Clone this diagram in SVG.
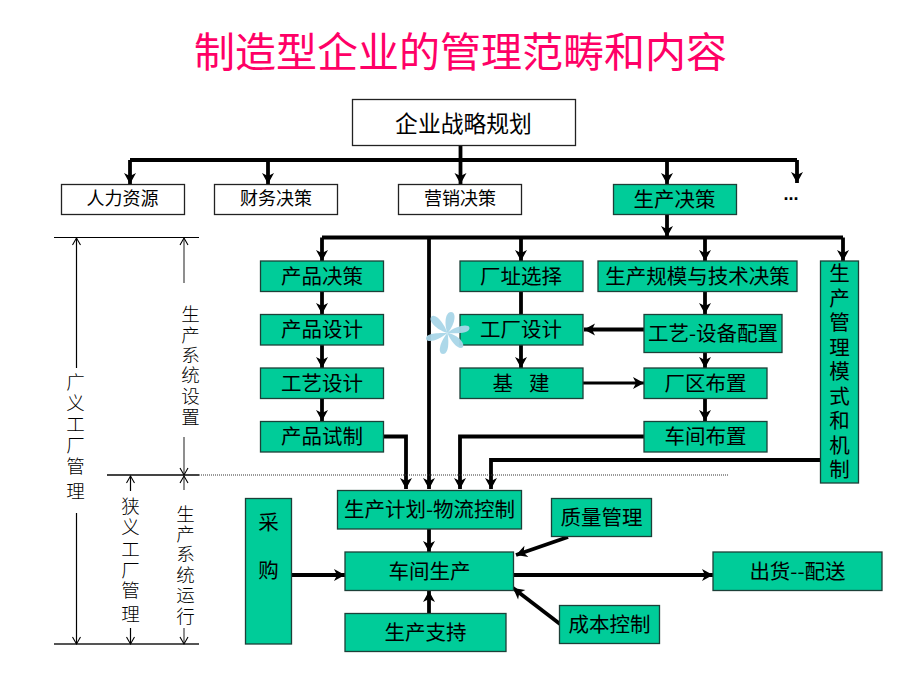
<svg xmlns="http://www.w3.org/2000/svg" width="920" height="690" viewBox="0 0 920 690">
<style>
text{font-family:"Noto Sans CJK SC","Liberation Sans",sans-serif;fill:#000;text-anchor:middle}
.w{fill:#fff;stroke:#222;stroke-width:1.3}
.g{fill:#00cc99;stroke:#1c4038;stroke-width:1.3}
.t{font-size:20.5px}
.s{font-size:18px}
.v{font-size:18.5px;font-weight:300}
.c{fill:none;stroke:#000;stroke-width:3.8;marker-end:url(#a)}
.n{fill:none;stroke:#000;stroke-width:3.8}
.h{fill:none;stroke:#000;stroke-width:1.2}
.d{fill:none;stroke:#000;stroke-width:1.2;marker-end:url(#o)}
</style>
<defs>
<marker id="a" markerUnits="userSpaceOnUse" markerWidth="14" markerHeight="14" refX="11" refY="6" orient="auto" overflow="visible"><path d="M0,0L11,6L0,12L3,6Z" fill="#000"/></marker>
<marker id="o" markerUnits="userSpaceOnUse" markerWidth="10" markerHeight="10" refX="7" refY="4" orient="auto" overflow="visible"><path d="M0,0L7,4L0,8" fill="none" stroke="#000" stroke-width="1.1"/></marker>
</defs>
<rect width="920" height="690" fill="#fff"/>
<text x="460.500" y="67" font-size="41" style="fill:#ff0066">制造型企业的管理范畴和内容</text>
<g id="connectors">
<path class="n" d="M460.500,145V160M130,160H797"/>
<path class="c" d="M130,160V184"/>
<path class="c" d="M268,160V184"/>
<path class="c" d="M460.500,160V184"/>
<path class="c" d="M667,160V184"/>
<path class="c" d="M797,160V183"/>
<path class="c" d="M667,214V237"/>
<path class="n" d="M322,237.500H843"/>
<path class="c" d="M322,237.500V261"/>
<path class="c" d="M521,237.500V261"/>
<path class="c" d="M705,237.500V261"/>
<path class="c" d="M843,237.500V261"/>
<path class="c" d="M429,237.500V489"/>
<path class="c" d="M322,291V314"/>
<path class="c" d="M322,345V368"/>
<path class="c" d="M322,398V421"/>
<path class="n" d="M521,291V314"/>
<path class="c" d="M521,345V368"/>
<path class="c" d="M705,291V314"/>
<path class="c" d="M705,345V368"/>
<path class="c" d="M705,398V421"/>
<path class="c" d="M644,329.500H584"/>
<path class="c" style="stroke-width:3" d="M583,383H644"/>
<path class="c" d="M383,436.500H406V489"/>
<path class="c" d="M644,436.500H460V489"/>
<path class="c" d="M820,460H491V489"/>
<path class="c" d="M429,529V552"/>
<path class="c" d="M429,613V591"/>
<path class="c" d="M291,575H345"/>
<path class="c" d="M513,575H713"/>
<path class="c" d="M568,537L516,555"/>
<path class="c" d="M560,624L513,588"/>
</g>
<g id="scale">
<path class="h" d="M54,237.500H199"/>
<path class="h" style="stroke-width:1.800;stroke:#444" d="M107,475H199"/>
<path class="h" style="stroke-width:1;stroke-dasharray:1 1;stroke:#333" d="M199,475H728"/>
<path class="h" style="stroke-width:2;stroke:#555" d="M54,644H199"/>
<path class="d" d="M76.500,368V238"/>
<path class="d" d="M76.500,513V644"/>
<path class="d" style="stroke:#444" d="M184,283V238"/>
<path class="d" style="stroke:#444" d="M184,437V475"/>
<path class="d" d="M130.500,491V476"/>
<path class="d" d="M130.500,628V644"/>
<path class="d" style="stroke:#444" d="M184,490V476"/>
<path class="d" style="stroke:#444" d="M184,628V644"/>
<text class="v"><tspan x="75.500" y="389">广</tspan><tspan x="75.500" y="410">义</tspan><tspan x="75.500" y="431">工</tspan><tspan x="75.500" y="452">厂</tspan><tspan x="75.500" y="473">管</tspan><tspan x="75.500" y="498">理</tspan></text>
<text class="v"><tspan x="190.500" y="321">生</tspan><tspan x="190.500" y="342">产</tspan><tspan x="190.500" y="362">系</tspan><tspan x="190.500" y="382">统</tspan><tspan x="190.500" y="403">设</tspan><tspan x="190.500" y="424">置</tspan></text>
<text class="v"><tspan x="130.500" y="513">狭</tspan><tspan x="130.500" y="534">义</tspan><tspan x="130.500" y="556">工</tspan><tspan x="130.500" y="577">厂</tspan><tspan x="130.500" y="597">管</tspan><tspan x="130.500" y="621">理</tspan></text>
<text class="v"><tspan x="185.500" y="521">生</tspan><tspan x="185.500" y="541">产</tspan><tspan x="185.500" y="561">系</tspan><tspan x="185.500" y="582">统</tspan><tspan x="185.500" y="602">运</tspan><tspan x="185.500" y="623">行</tspan></text>
</g>
<g id="n-top"><rect class="w" x="352.500" y="99.500" width="223" height="46"/><text x="463.500" y="132" font-size="22.800">企业战略规划</text></g>
<g id="n-hr"><rect class="w" x="61.500" y="184.500" width="123" height="30"/><text class="s" x="122.500" y="205">人力资源</text></g>
<g id="n-fin"><rect class="w" x="214.500" y="184.500" width="123" height="30"/><text class="s" x="276" y="205">财务决策</text></g>
<g id="n-mkt"><rect class="w" x="398.500" y="184.500" width="123" height="30"/><text class="s" x="460" y="205">营销决策</text></g>
<g id="n-prod"><rect class="g" x="613.500" y="184.500" width="123" height="30"/><text class="t" x="674.500" y="206.500">生产决策</text></g>
<g id="n-more"><text x="791" y="200" font-size="18" font-weight="700" style="font-family:'Liberation Sans',sans-serif">...</text></g>
<g id="n1"><rect class="g" x="260.500" y="261" width="123" height="30.500"/><text class="t" x="322" y="283.500">产品决策</text></g>
<g id="n2"><rect class="g" x="260.500" y="314.500" width="123" height="30.500"/><text class="t" x="322" y="336.500">产品设计</text></g>
<g id="n3"><rect class="g" x="260.500" y="368" width="123" height="30.500"/><text class="t" x="322" y="390.500">工艺设计</text></g>
<g id="n4"><rect class="g" x="260.500" y="421.500" width="123" height="30.500"/><text class="t" x="322" y="443.500">产品试制</text></g>
<g id="n5"><rect class="g" x="460" y="261" width="123" height="30.500"/><text class="t" x="521" y="283.500">厂址选择</text></g>
<g id="n6"><rect class="g" x="460" y="314.500" width="123" height="30.500"/><text class="t" x="521" y="336.500">工厂设计</text></g>
<g id="n7"><rect class="g" x="460" y="368" width="123" height="30.500"/><text class="t" x="521" y="390.500" xml:space="preserve" style="word-spacing:3.500px">基  建</text></g>
<g id="n8"><rect class="g" x="598" y="261" width="199" height="30.500"/><text class="t" x="697.500" y="283.500">生产规模与技术决策</text></g>
<g id="n9"><rect class="g" x="644" y="314.500" width="138" height="38"/><text class="t" x="713" y="340.500">工艺-设备配置</text></g>
<g id="n10"><rect class="g" x="644" y="368" width="123" height="30.500"/><text class="t" x="705.500" y="390.500">厂区布置</text></g>
<g id="n11"><rect class="g" x="644" y="421.500" width="123" height="30.500"/><text class="t" x="705.500" y="443.500">车间布置</text></g>
<g id="n12"><rect class="g" x="820.500" y="261" width="38" height="222"/><text class="t"><tspan x="839.500" y="281">生</tspan><tspan x="839.500" y="305.500">产</tspan><tspan x="839.500" y="330">管</tspan><tspan x="839.500" y="354.500">理</tspan><tspan x="839.500" y="379">模</tspan><tspan x="839.500" y="403.500">式</tspan><tspan x="839.500" y="428">和</tspan><tspan x="839.500" y="452.500">机</tspan><tspan x="839.500" y="477">制</tspan></text></g>
<g id="n13"><rect class="g" x="337.500" y="490.500" width="184" height="38.500"/><text class="t" x="429.500" y="517">生产计划-物流控制</text></g>
<g id="n14"><rect class="g" x="345" y="552" width="168.500" height="38.500"/><text class="t" x="429.500" y="578.500">车间生产</text></g>
<g id="n15"><rect class="g" x="345" y="613.500" width="161" height="38"/><text class="t" x="425.500" y="639.500">生产支持</text></g>
<g id="n16"><rect class="g" x="245.500" y="498.500" width="46" height="145.500"/><text class="t"><tspan x="268.500" y="530">采</tspan><tspan x="268.500" y="578">购</tspan></text></g>
<g id="n17"><rect class="g" x="551.500" y="498.500" width="100" height="38"/><text class="t" x="601.500" y="524.500">质量管理</text></g>
<g id="n18"><rect class="g" x="559.500" y="605.500" width="100" height="38"/><text class="t" x="609.500" y="631.500">成本控制</text></g>
<g id="n19"><rect class="g" x="713" y="552" width="169" height="38.500"/><text class="t" x="797.500" y="578.500">出货--配送</text></g>
<g id="star" fill="#a9d6e8" fill-opacity="0.95">
<path d="M447.500,333C444,325 445,312 451,312C457,312 455,325 447.500,333Z"/>
<path d="M447.500,333C455,326 469,323 469.500,328C470,333 457,334 447.500,333Z"/>
<path d="M447.500,333C456,334 465,342 463,347C460,351 451,343 447.500,333Z"/>
<path d="M447.500,333C449,341 449,354 443,354C437,354 440,341 447.500,333Z"/>
<path d="M447.500,333C440,339 428,344 426,339C425,333 438,333 447.500,333Z"/>
<path d="M447.500,333C439,331 428,322 431,317C435,312 444,323 447.500,333Z"/>
</g>
</svg>
